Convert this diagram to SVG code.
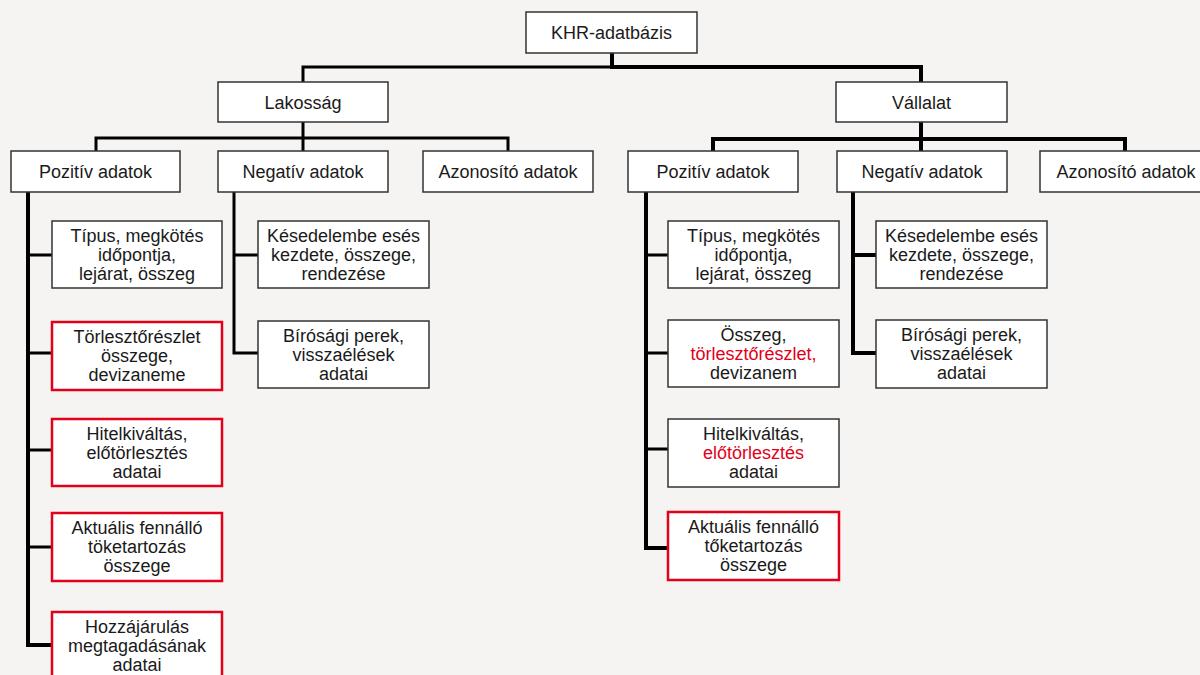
<svg xmlns="http://www.w3.org/2000/svg" width="1200" height="675" viewBox="0 0 1200 675">
<style>
.bg{fill:#f5f4f2}
.box{fill:#ffffff;stroke:#333333;stroke-width:1.5}
.rbox{fill:#ffffff;stroke:#e2001a;stroke-width:2.5}
text{font-family:"Liberation Sans",Arial,sans-serif;font-size:18px;fill:#1a1a1a;text-anchor:middle}
.red{fill:#e2001a}
.c3{fill:none;stroke:#000000;stroke-width:3;stroke-linejoin:miter}
.c4{fill:none;stroke:#000000;stroke-width:4;stroke-linejoin:miter}
</style>
<rect class="bg" x="0" y="0" width="1200" height="675"/>
<g id="connectors">
<path class="c3" d="M612 53 V67 H303 V82"/>
<path class="c4" d="M612 53 V67 H921 V82"/>
<path class="c3" d="M303 122 V138 H96 V151 M303 138 H508 V151 M303 138 V151"/>
<path class="c4" d="M921 122 V139 H713 V151 M921 139 H1125 V151 M921 139 V151"/>
<path class="c4" d="M28 192 V645 H52"/>
<path class="c3" d="M28 255 H52 M28 353 H52 M28 450 H52 M28 547 H52"/>
<path class="c3" d="M234 192 V353 H258 M234 255 H258"/>
<path class="c4" d="M646 192 V548 H668"/>
<path class="c3" d="M646 255 H668 M646 353 H668 M646 449 H668"/>
<path class="c4" d="M853 192 V353 H876 M853 255 H876"/>
</g>
<g id="khr"><rect class="box" x="526" y="12" width="171" height="41"/><text x="611.5" y="38.5">KHR-adatbázis</text></g>
<g id="lakossag"><rect class="box" x="218" y="82" width="170" height="40"/><text x="303" y="108.5">Lakosság</text></g>
<g id="vallalat"><rect class="box" x="836" y="82" width="171" height="40"/><text x="921.5" y="108.5">Vállalat</text></g>
<g id="l-pozitiv"><rect class="box" x="11" y="151" width="169" height="41"/><text x="95.5" y="177.5">Pozitív adatok</text></g>
<g id="l-negativ"><rect class="box" x="218" y="151" width="170" height="41"/><text x="303" y="177.5">Negatív adatok</text></g>
<g id="l-azonosito"><rect class="box" x="423" y="151" width="170" height="41"/><text x="508" y="177.5">Azonosító adatok</text></g>
<g id="v-pozitiv"><rect class="box" x="628" y="151" width="170" height="41"/><text x="713" y="177.5">Pozitív adatok</text></g>
<g id="v-negativ"><rect class="box" x="837" y="151" width="170" height="41"/><text x="922" y="177.5">Negatív adatok</text></g>
<g id="v-azonosito"><rect class="box" x="1040" y="151" width="172" height="41"/><text x="1126" y="177.5">Azonosító adatok</text></g>
<g id="l-p1"><rect class="box" x="52" y="221" width="170" height="67"/><text x="137" y="242">Típus, megkötés</text><text x="137" y="261">időpontja,</text><text x="137" y="280">lejárat, összeg</text></g>
<g id="l-p2"><rect class="rbox" x="52" y="322" width="170" height="68"/><text x="137" y="343">Törlesztőrészlet</text><text x="137" y="362">összege,</text><text x="137" y="381">devizaneme</text></g>
<g id="l-p3"><rect class="rbox" x="52" y="419" width="170" height="67"/><text x="137" y="440">Hitelkiváltás,</text><text x="137" y="459">előtörlesztés</text><text x="137" y="478">adatai</text></g>
<g id="l-p4"><rect class="rbox" x="52" y="513" width="170" height="68"/><text x="137" y="534">Aktuális fennálló</text><text x="137" y="553">töketartozás</text><text x="137" y="572">összege</text></g>
<g id="l-p5"><rect class="rbox" x="52" y="612" width="170" height="68"/><text x="137" y="633">Hozzájárulás</text><text x="137" y="652">megtagadásának</text><text x="137" y="671">adatai</text></g>
<g id="l-n1"><rect class="box" x="258" y="221" width="171" height="67"/><text x="343.5" y="242">Késedelembe esés</text><text x="343.5" y="261">kezdete, összege,</text><text x="343.5" y="280">rendezése</text></g>
<g id="l-n2"><rect class="box" x="258" y="321" width="171" height="67"/><text x="343.5" y="342">Bírósági perek,</text><text x="343.5" y="361">visszaélések</text><text x="343.5" y="380">adatai</text></g>
<g id="v-p1"><rect class="box" x="668" y="221" width="171" height="67"/><text x="753.5" y="242">Típus, megkötés</text><text x="753.5" y="261">időpontja,</text><text x="753.5" y="280">lejárat, összeg</text></g>
<g id="v-p2"><rect class="box" x="668" y="320" width="171" height="67"/><text x="753.5" y="341">Összeg,</text><text x="753.5" y="360" class="red">törlesztőrészlet,</text><text x="753.5" y="379">devizanem</text></g>
<g id="v-p3"><rect class="box" x="668" y="419" width="171" height="68"/><text x="753.5" y="440">Hitelkiváltás,</text><text x="753.5" y="459" class="red">előtörlesztés</text><text x="753.5" y="478">adatai</text></g>
<g id="v-p4"><rect class="rbox" x="668" y="512" width="171" height="68"/><text x="753.5" y="533">Aktuális fennálló</text><text x="753.5" y="552">tőketartozás</text><text x="753.5" y="571">összege</text></g>
<g id="v-n1"><rect class="box" x="876" y="221" width="171" height="67"/><text x="961.5" y="242">Késedelembe esés</text><text x="961.5" y="261">kezdete, összege,</text><text x="961.5" y="280">rendezése</text></g>
<g id="v-n2"><rect class="box" x="876" y="320" width="171" height="68"/><text x="961.5" y="341">Bírósági perek,</text><text x="961.5" y="360">visszaélések</text><text x="961.5" y="379">adatai</text></g>
</svg>
